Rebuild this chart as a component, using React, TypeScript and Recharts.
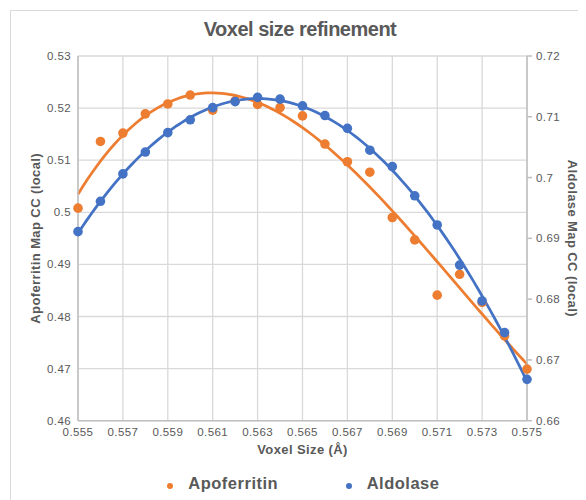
import React from 'react';
import { ComposedChart, Line, Scatter, XAxis, YAxis, CartesianGrid } from 'recharts';

const voxelSizes = [
  0.555, 0.556, 0.557, 0.558, 0.559, 0.56, 0.561, 0.562, 0.563, 0.564, 0.565,
  0.566, 0.567, 0.568, 0.569, 0.57, 0.571, 0.572, 0.573, 0.574, 0.575,
];
const apoferritinCC = [
  0.5008, 0.5136, 0.5152, 0.5189, 0.5208, 0.5225, 0.5196, 0.5214, 0.5207, 0.5201, 0.5185,
  0.5131, 0.5097, 0.5077, 0.499, 0.4947, 0.4841, 0.4881, 0.4827, 0.4763, 0.4699,
];
const aldolaseCC = [
  0.6911, 0.6961, 0.7006, 0.7042, 0.7074, 0.7095, 0.7115, 0.7125, 0.7132, 0.7129, 0.7118,
  0.7102, 0.7081, 0.7045, 0.7018, 0.697, 0.6922, 0.6856, 0.6797, 0.6745, 0.6668,
];
const xTicks = [0.555, 0.557, 0.559, 0.561, 0.563, 0.565, 0.567, 0.569, 0.571, 0.573, 0.575];
const leftTicks = [0.46, 0.47, 0.48, 0.49, 0.5, 0.51, 0.52, 0.53];
const rightTicks = [0.66, 0.67, 0.68, 0.69, 0.7, 0.71, 0.72];

const ORANGE = '#ED7D31';
const BLUE = '#4472C4';
const TEXT = '#595959';

// Least-squares polynomial trendline (like Excel's polynomial trendline)
function polyFit(xs: number[], ys: number[], order: number): number[] {
  const n = order + 1;
  const A: number[][] = Array.from({ length: n }, () => Array(n + 1).fill(0));
  xs.forEach((x, i) => {
    const t = (x - 0.565) * 1000;
    for (let r = 0; r < n; r++) {
      for (let c = 0; c < n; c++) A[r][c] += Math.pow(t, r + c);
      A[r][n] += ys[i] * Math.pow(t, r);
    }
  });
  for (let i = 0; i < n; i++) {
    let p = i;
    for (let k = i + 1; k < n; k++) if (Math.abs(A[k][i]) > Math.abs(A[p][i])) p = k;
    [A[i], A[p]] = [A[p], A[i]];
    for (let k = i + 1; k < n; k++) {
      const f = A[k][i] / A[i][i];
      for (let c = i; c <= n; c++) A[k][c] -= f * A[i][c];
    }
  }
  const coef = Array(n).fill(0);
  for (let i = n - 1; i >= 0; i--) {
    let s = A[i][n];
    for (let c = i + 1; c < n; c++) s -= A[i][c] * coef[c];
    coef[i] = s / A[i][i];
  }
  return coef;
}

function trend(xs: number[], ys: number[], order: number) {
  const coef = polyFit(xs, ys, order);
  const out: { x: number; y: number }[] = [];
  const x0 = xs[0];
  const x1 = xs[xs.length - 1];
  const steps = 100;
  for (let i = 0; i <= steps; i++) {
    const x = x0 + ((x1 - x0) * i) / steps;
    const t = (x - 0.565) * 1000;
    let y = 0;
    coef.forEach((c, k) => (y += c * Math.pow(t, k)));
    out.push({ x, y });
  }
  return out;
}

const apoPoints = voxelSizes.map((x, i) => ({ x, y: apoferritinCC[i] }));
const aldPoints = voxelSizes.map((x, i) => ({ x, y: aldolaseCC[i] }));
const apoTrend = trend(voxelSizes, apoferritinCC, 3);
const aldTrend = trend(voxelSizes, aldolaseCC, 3);

const dot = (color: string) => (props: any) => (
  <circle cx={props.cx} cy={props.cy} r={4.8} fill={color} />
);

export default function App() {
  return (
    <div
      style={{
        position: 'relative',
        width: 578,
        height: 492,
        overflow: 'hidden',
        fontFamily: '"Liberation Sans", Arial, sans-serif',
        letterSpacing: '0.4px',
        background: '#fff',
      }}
    >
      <div
        style={{
          position: 'absolute',
          left: 2,
          top: 2,
          width: 700,
          height: 700,
          border: '1px solid #d9d9d9',
        }}
      />
      <div
        style={{
          position: 'absolute',
          left: 0,
          top: 11,
          width: 584,
          textAlign: 'center',
          fontSize: 20,
          lineHeight: '20px',
          fontWeight: 'bold',
          color: TEXT,
          letterSpacing: '-0.5px',
        }}
      >
        Voxel size refinement
      </div>
      <div style={{ position: 'absolute', left: 0, top: 0 }}>
        <ComposedChart
          width={578}
          height={492}
          margin={{ top: 48, right: 0, left: 0, bottom: 19.3 }}
        >
          <CartesianGrid yAxisId="left" stroke="#d9d9d9" strokeWidth={1.3} />
          <XAxis
            type="number"
            dataKey="x"
            domain={[0.555, 0.575]}
            ticks={xTicks}
            tickFormatter={(v: number) => v.toFixed(3)}
            height={60}
            axisLine={{ stroke: '#bfbfbf', strokeWidth: 1.5 }}
            tickLine={false}
            tickSize={0}
            tickMargin={7.5}
            tick={{ fill: TEXT, fontSize: 11.5 }}
            label={{
              value: 'Voxel Size (Å)',
              position: 'insideBottom',
              offset: 26.4,
              fill: TEXT,
              fontSize: 13,
              fontWeight: 'bold',
            }}
          />
          <YAxis
            yAxisId="left"
            orientation="left"
            dataKey="y"
            type="number"
            domain={[0.46, 0.53]}
            ticks={leftTicks}
            width={70}
            axisLine={{ stroke: '#bfbfbf', strokeWidth: 1.5 }}
            tickLine={false}
            tickSize={0}
            tickMargin={7}
            tick={{ fill: TEXT, fontSize: 11.5 }}
            label={{
              value: 'Apoferritin Map CC (local)',
              angle: -90,
              position: 'insideLeft',
              offset: 27.5,
              fill: TEXT,
              fontSize: 13,
              fontWeight: 'bold',
              style: { textAnchor: 'middle' },
            }}
          />
          <YAxis
            yAxisId="right"
            orientation="right"
            dataKey="y"
            type="number"
            domain={[0.66, 0.72]}
            ticks={rightTicks}
            width={59}
            axisLine={{ stroke: '#bfbfbf', strokeWidth: 1.5 }}
            tickLine={{ stroke: '#bfbfbf', strokeWidth: 1.5 }}
            tickSize={5}
            tickMargin={4}
            tick={{ fill: TEXT, fontSize: 11.5 }}
            label={{
              value: 'Aldolase Map CC (local)',
              angle: 90,
              position: 'insideRight',
              offset: 13,
              fill: TEXT,
              fontSize: 13,
              fontWeight: 'bold',
              style: { textAnchor: 'middle' },
            }}
          />
          <Line
            yAxisId="left"
            data={apoTrend}
            dataKey="y"
            type="linear"
            stroke={ORANGE}
            strokeWidth={2.75}
            dot={false}
            activeDot={false}
            legendType="none"
            isAnimationActive={false}
          />
          <Scatter
            yAxisId="left"
            name="Apoferritin"
            data={apoPoints}
            dataKey="y"
            fill={ORANGE}
            shape={dot(ORANGE)}
            isAnimationActive={false}
          />
          <Line
            yAxisId="right"
            data={aldTrend}
            dataKey="y"
            type="linear"
            stroke={BLUE}
            strokeWidth={2.75}
            dot={false}
            activeDot={false}
            legendType="none"
            isAnimationActive={false}
          />
          <Scatter
            yAxisId="right"
            name="Aldolase"
            data={aldPoints}
            dataKey="y"
            fill={BLUE}
            shape={dot(BLUE)}
            isAnimationActive={false}
          />
        </ComposedChart>
      </div>
      {/* Legend */}
      <div
        style={{
          position: 'absolute',
          left: 159,
          top: 474.7,
          width: 6,
          height: 6,
          borderRadius: '50%',
          background: ORANGE,
        }}
      />
      <div
        style={{
          position: 'absolute',
          left: 180.3,
          top: 467,
          fontSize: 16.5,
          lineHeight: '16.5px',
          fontWeight: 'bold',
          color: TEXT,
          letterSpacing: '0.5px',
          whiteSpace: 'nowrap',
        }}
      >
        Apoferritin
      </div>
      <div
        style={{
          position: 'absolute',
          left: 338.3,
          top: 474.7,
          width: 6,
          height: 6,
          borderRadius: '50%',
          background: BLUE,
        }}
      />
      <div
        style={{
          position: 'absolute',
          left: 358.7,
          top: 467,
          fontSize: 16.5,
          lineHeight: '16.5px',
          fontWeight: 'bold',
          color: TEXT,
          letterSpacing: '0.5px',
          whiteSpace: 'nowrap',
        }}
      >
        Aldolase
      </div>
    </div>
  );
}
